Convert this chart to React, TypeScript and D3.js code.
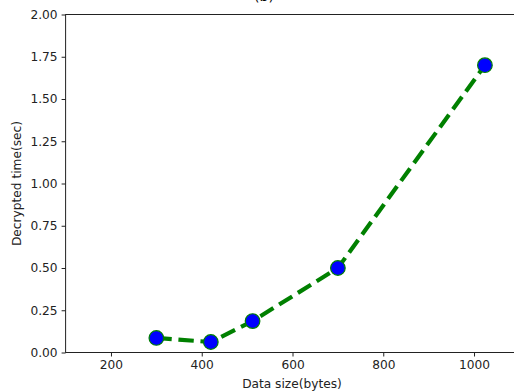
import React, { useEffect, useRef } from 'react';
import * as d3 from 'd3';

// values
const dataSizes = [300, 420, 512, 700, 1024];
const decryptTimes = [0.086, 0.062, 0.186, 0.5, 1.7];
const xTicks = [200, 400, 600, 800, 1000];
const yTicks = [0, 0.25, 0.5, 0.75, 1.0, 1.25, 1.5, 1.75, 2.0];

const width = 514;
const height = 392;

const App: React.FC = () => {
  const svgRef = useRef<SVGSVGElement>(null);

  useEffect(() => {
    if (!svgRef.current) return;
    const svg = d3.select(svgRef.current);
    svg.selectAll('*').remove();

    const font = 'DejaVu Sans, sans-serif';
    const margin = { top: 14.5, left: 65.6, bottom: 352.5, right: 519.4 };

    const x = d3.scaleLinear().domain([100, 1100]).range([margin.left, margin.right]);
    const y = d3.scaleLinear().domain([0, 2]).range([margin.bottom, margin.top]);

    // title, mostly cut off at the top edge (as in the reference)
    svg
      .append('text')
      .attr('x', 264)
      .attr('y', 1)
      .attr('text-anchor', 'middle')
      .attr('font-family', font)
      .attr('font-size', 14)
      .attr('fill', '#000')
      .text('(b)');

    const xAxis = svg
      .append('g')
      .attr('transform', `translate(0,${margin.bottom})`)
      .call(
        d3
          .axisBottom(x)
          .tickValues(xTicks)
          .tickSize(4)
          .tickPadding(4)
          .tickFormat((d) => `${d}`),
      );

    const yAxis = svg
      .append('g')
      .attr('transform', `translate(${margin.left},0)`)
      .call(
        d3
          .axisLeft(y)
          .tickValues(yTicks)
          .tickSize(4)
          .tickPadding(4)
          .tickFormat(d3.format('.2f')),
      );

    [xAxis, yAxis].forEach((ax) => {
      ax.select('.domain').remove();
      ax.selectAll('line').attr('stroke', '#222').attr('stroke-width', 1);
      ax.selectAll('text')
        .attr('font-family', font)
        .attr('font-size', 12.2)
        .attr('fill', '#222');
    });

    // spines
    svg
      .append('rect')
      .attr('x', margin.left)
      .attr('y', margin.top)
      .attr('width', margin.right - margin.left)
      .attr('height', margin.bottom - margin.top)
      .attr('stroke', '#222')
      .attr('stroke-width', 1)
      .attr('fill', 'none');

    // axis labels
    svg
      .append('text')
      .attr('x', 292)
      .attr('y', 388)
      .attr('text-anchor', 'middle')
      .attr('font-family', font)
      .attr('font-size', 12.2)
      .attr('fill', '#222')
      .text('Data size(bytes)');

    svg
      .append('text')
      .attr('transform', `translate(21,${(margin.top + margin.bottom) / 2}) rotate(-90)`)
      .attr('text-anchor', 'middle')
      .attr('font-family', font)
      .attr('font-size', 12.2)
      .attr('fill', '#222')
      .text('Decrypted time(sec)');

    const points = dataSizes.map((d, i) => [d, decryptTimes[i]] as [number, number]);

    const line = d3
      .line<[number, number]>()
      .x((d) => x(d[0]))
      .y((d) => y(d[1]));

    svg
      .append('path')
      .datum(points)
      .attr('d', line)
      .attr('fill', 'none')
      .attr('stroke', 'green')
      .attr('stroke-width', 4.2)
      .attr('stroke-dasharray', '15.4,6.7');

    svg
      .append('g')
      .selectAll('circle')
      .data(points)
      .join('circle')
      .attr('cx', (d) => x(d[0]))
      .attr('cy', (d) => y(d[1]))
      .attr('r', 7.3)
      .attr('fill', 'blue')
      .attr('stroke', 'green')
      .attr('stroke-width', 1.2);
  }, []);

  return (
    <svg
      ref={svgRef}
      width={width}
      height={height}
      style={{ position: 'absolute', left: 0, top: 0, background: '#fff' }}
    />
  );
};

export default App;
